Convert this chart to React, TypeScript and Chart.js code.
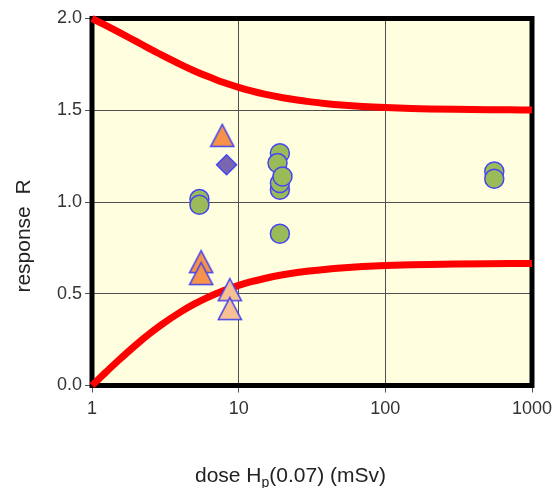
import React, { useEffect, useRef } from 'react';
import { Chart, registerables } from 'chart.js';
Chart.register(...registerables);

// Limit curves (trumpet curves)
const curveDose = [1, 1.25, 1.5, 2, 2.5, 3, 4, 5, 6, 7, 8, 10, 12, 15, 20, 25, 30, 40, 50, 70, 100, 150, 200, 300, 500, 700, 1000];
const upperLimit = [2.0, 1.9615, 1.9286, 1.875, 1.8333, 1.8, 1.75, 1.7143, 1.6875, 1.6667, 1.65, 1.625, 1.6071, 1.5882, 1.5682, 1.5556, 1.5469, 1.5357, 1.5288, 1.5208, 1.5147, 1.5099, 1.5074, 1.505, 1.503, 1.5021, 1.5015];
const lowerLimit = [0, 0.0741, 0.1333, 0.2222, 0.2857, 0.3333, 0.4, 0.4444, 0.4762, 0.5, 0.5185, 0.5455, 0.5641, 0.5833, 0.6032, 0.6154, 0.6237, 0.6341, 0.6405, 0.6479, 0.6535, 0.6578, 0.66, 0.6622, 0.664, 0.6648, 0.6653];

// Measured responses
const circleDose = [5.4, 5.4, 19.1, 18.4, 19.1, 19.1, 19.9, 19.1, 553, 553];
const circleResponse = [1.016, 0.985, 1.266, 1.212, 1.067, 1.103, 1.139, 0.827, 1.166, 1.127];
const orangeDose = [5.55, 5.55, 7.73];
const orangeResponse = [0.675, 0.61, 1.363];
const peachDose = [8.71, 8.71];
const peachResponse = [0.522, 0.419];
const diamondDose = [8.27];
const diamondResponse = [1.203];

const xTickValues = [1, 10, 100, 1000];
const xTickLabels = ['1', '10', '100', '1000'];
const yTickLabels = ['0.0', '0.5', '1.0', '1.5', '2.0'];

const FONT = "'Liberation Sans', Arial, sans-serif";
const MARKER_BORDER = '#4646ee';

function pts(xs: number[], ys: number[]) {
  return xs.map((x, i) => ({ x, y: ys[i] }));
}

function triangleImage(fill: string) {
  const c = document.createElement('canvas');
  c.width = 26;
  c.height = 25;
  const ctx = c.getContext('2d')!;
  ctx.beginPath();
  ctx.moveTo(13, 1.5);
  ctx.lineTo(24.5, 23.5);
  ctx.lineTo(1.5, 23.5);
  ctx.closePath();
  ctx.fillStyle = fill;
  ctx.fill();
  ctx.lineWidth = 1.6;
  ctx.strokeStyle = MARKER_BORDER;
  ctx.lineJoin = 'miter';
  ctx.stroke();
  return c;
}

const framePlugin = {
  id: 'frame',
  beforeDraw(chart: any) {
    const { ctx, chartArea: a } = chart;
    ctx.save();
    ctx.fillStyle = '#ffffff';
    ctx.fillRect(0, 0, chart.width, chart.height);
    ctx.fillStyle = '#ffffdf';
    ctx.fillRect(a.left, a.top, a.right - a.left, a.bottom - a.top);
    ctx.restore();
  },
  beforeDatasetsDraw(chart: any) {
    const { ctx, chartArea: a } = chart;
    ctx.save();
    ctx.strokeStyle = '#000000';
    ctx.lineWidth = 5;
    ctx.strokeRect(a.left, a.top, a.right - a.left, a.bottom - a.top);
    ctx.restore();
  },
  afterDraw(chart: any) {
    const { ctx } = chart;
    ctx.save();
    ctx.fillStyle = '#222222';
    ctx.textBaseline = 'alphabetic';
    ctx.textAlign = 'left';
    // x title with subscript
    const base = 481.5;
    let x = 195;
    ctx.font = `21px ${FONT}`;
    ctx.fillText('dose H', x, base);
    x += ctx.measureText('dose H').width;
    ctx.font = `14px ${FONT}`;
    ctx.fillText('p', x, base + 5);
    x += ctx.measureText('p').width;
    ctx.font = `21px ${FONT}`;
    ctx.fillText('(0.07) (mSv)', x, base);
    // y title
    ctx.translate(24, 236);
    ctx.rotate(-Math.PI / 2);
    ctx.textAlign = 'center';
    ctx.textBaseline = 'middle';
    ctx.font = `21px ${FONT}`;
    ctx.fillText('response  R', 0, 0);
    ctx.restore();
  },
};

export default function App() {
  const ref = useRef<HTMLCanvasElement>(null);
  useEffect(() => {
    const prevMargin = document.body.style.margin;
    document.body.style.margin = '0';
    const chart = new Chart(ref.current!, {
      type: 'scatter',
      data: {
        datasets: [
          {
            label: 'diamond',
            data: pts(diamondDose, diamondResponse),
            pointStyle: 'rectRot',
            pointRadius: 10,
            backgroundColor: '#7866b0',
            borderColor: MARKER_BORDER,
            borderWidth: 1.5,
          },
          {
            label: 'peach',
            data: pts(peachDose, peachResponse),
            pointStyle: triangleImage('#f9c193') as any,
            backgroundColor: '#f9c193',
            borderColor: MARKER_BORDER,
          },
          {
            label: 'orange',
            data: pts(orangeDose, orangeResponse),
            pointStyle: triangleImage('#f6924a') as any,
            backgroundColor: '#f6924a',
            borderColor: MARKER_BORDER,
          },
          {
            label: 'circles',
            data: pts(circleDose, circleResponse),
            pointStyle: 'circle',
            pointRadius: 9.5,
            backgroundColor: '#9bbb59',
            borderColor: MARKER_BORDER,
            borderWidth: 1.5,
          },
          {
            label: 'upper',
            type: 'line',
            data: pts(curveDose, upperLimit),
            borderColor: '#ff0000',
            borderWidth: 7,
            pointRadius: 0,
            tension: 0.4,
            cubicInterpolationMode: 'monotone',
            fill: false,
            clip: false as any,
          } as any,
          {
            label: 'lower',
            type: 'line',
            data: pts(curveDose, lowerLimit),
            borderColor: '#ff0000',
            borderWidth: 7,
            pointRadius: 0,
            tension: 0.4,
            cubicInterpolationMode: 'monotone',
            fill: false,
            clip: false as any,
          } as any,
        ],
      },
      options: {
        animation: false,
        responsive: false,
        devicePixelRatio: 1,
        layout: { padding: { top: 18.5, right: 20, left: 0, bottom: 0 } },
        plugins: { legend: { display: false }, tooltip: { enabled: false } },
        scales: {
          x: {
            type: 'logarithmic',
            min: 1,
            max: 1000,
            afterBuildTicks: (scale: any) => {
              scale.ticks = xTickValues.map((v) => ({ value: v }));
            },
            afterFit: (scale: any) => {
              scale.height = 102.5;
              scale.paddingLeft = 0;
              scale.paddingRight = 0;
            },
            border: { display: false },
            grid: { color: '#505050', lineWidth: 1, tickLength: 7, tickColor: '#505050' },
            ticks: {
              autoSkip: false,
              maxRotation: 0,
              padding: 6,
              color: '#333333',
              font: { family: FONT, size: 18 },
              callback: (_v: any, i: number) => xTickLabels[i],
            },
          },
          y: {
            type: 'linear',
            min: 0,
            max: 2,
            afterBuildTicks: (scale: any) => {
              scale.ticks = yTickLabels.map((t) => ({ value: parseFloat(t) }));
            },
            afterFit: (scale: any) => {
              scale.width = 92;
              scale.paddingTop = 0;
              scale.paddingBottom = 0;
            },
            border: { display: false },
            grid: { color: '#505050', lineWidth: 1, tickLength: 7, tickColor: '#505050' },
            ticks: {
              padding: 3,
              color: '#333333',
              font: { family: FONT, size: 18 },
              callback: (_v: any, i: number) => yTickLabels[i],
            },
          },
        },
      },
      plugins: [framePlugin],
    });
    return () => {
      chart.destroy();
      document.body.style.margin = prevMargin;
    };
  }, []);
  return (
    <div style={{ position: 'absolute', left: 0, top: 0, width: 552, height: 488 }}>
      <canvas ref={ref} width={552} height={488} />
    </div>
  );
}
